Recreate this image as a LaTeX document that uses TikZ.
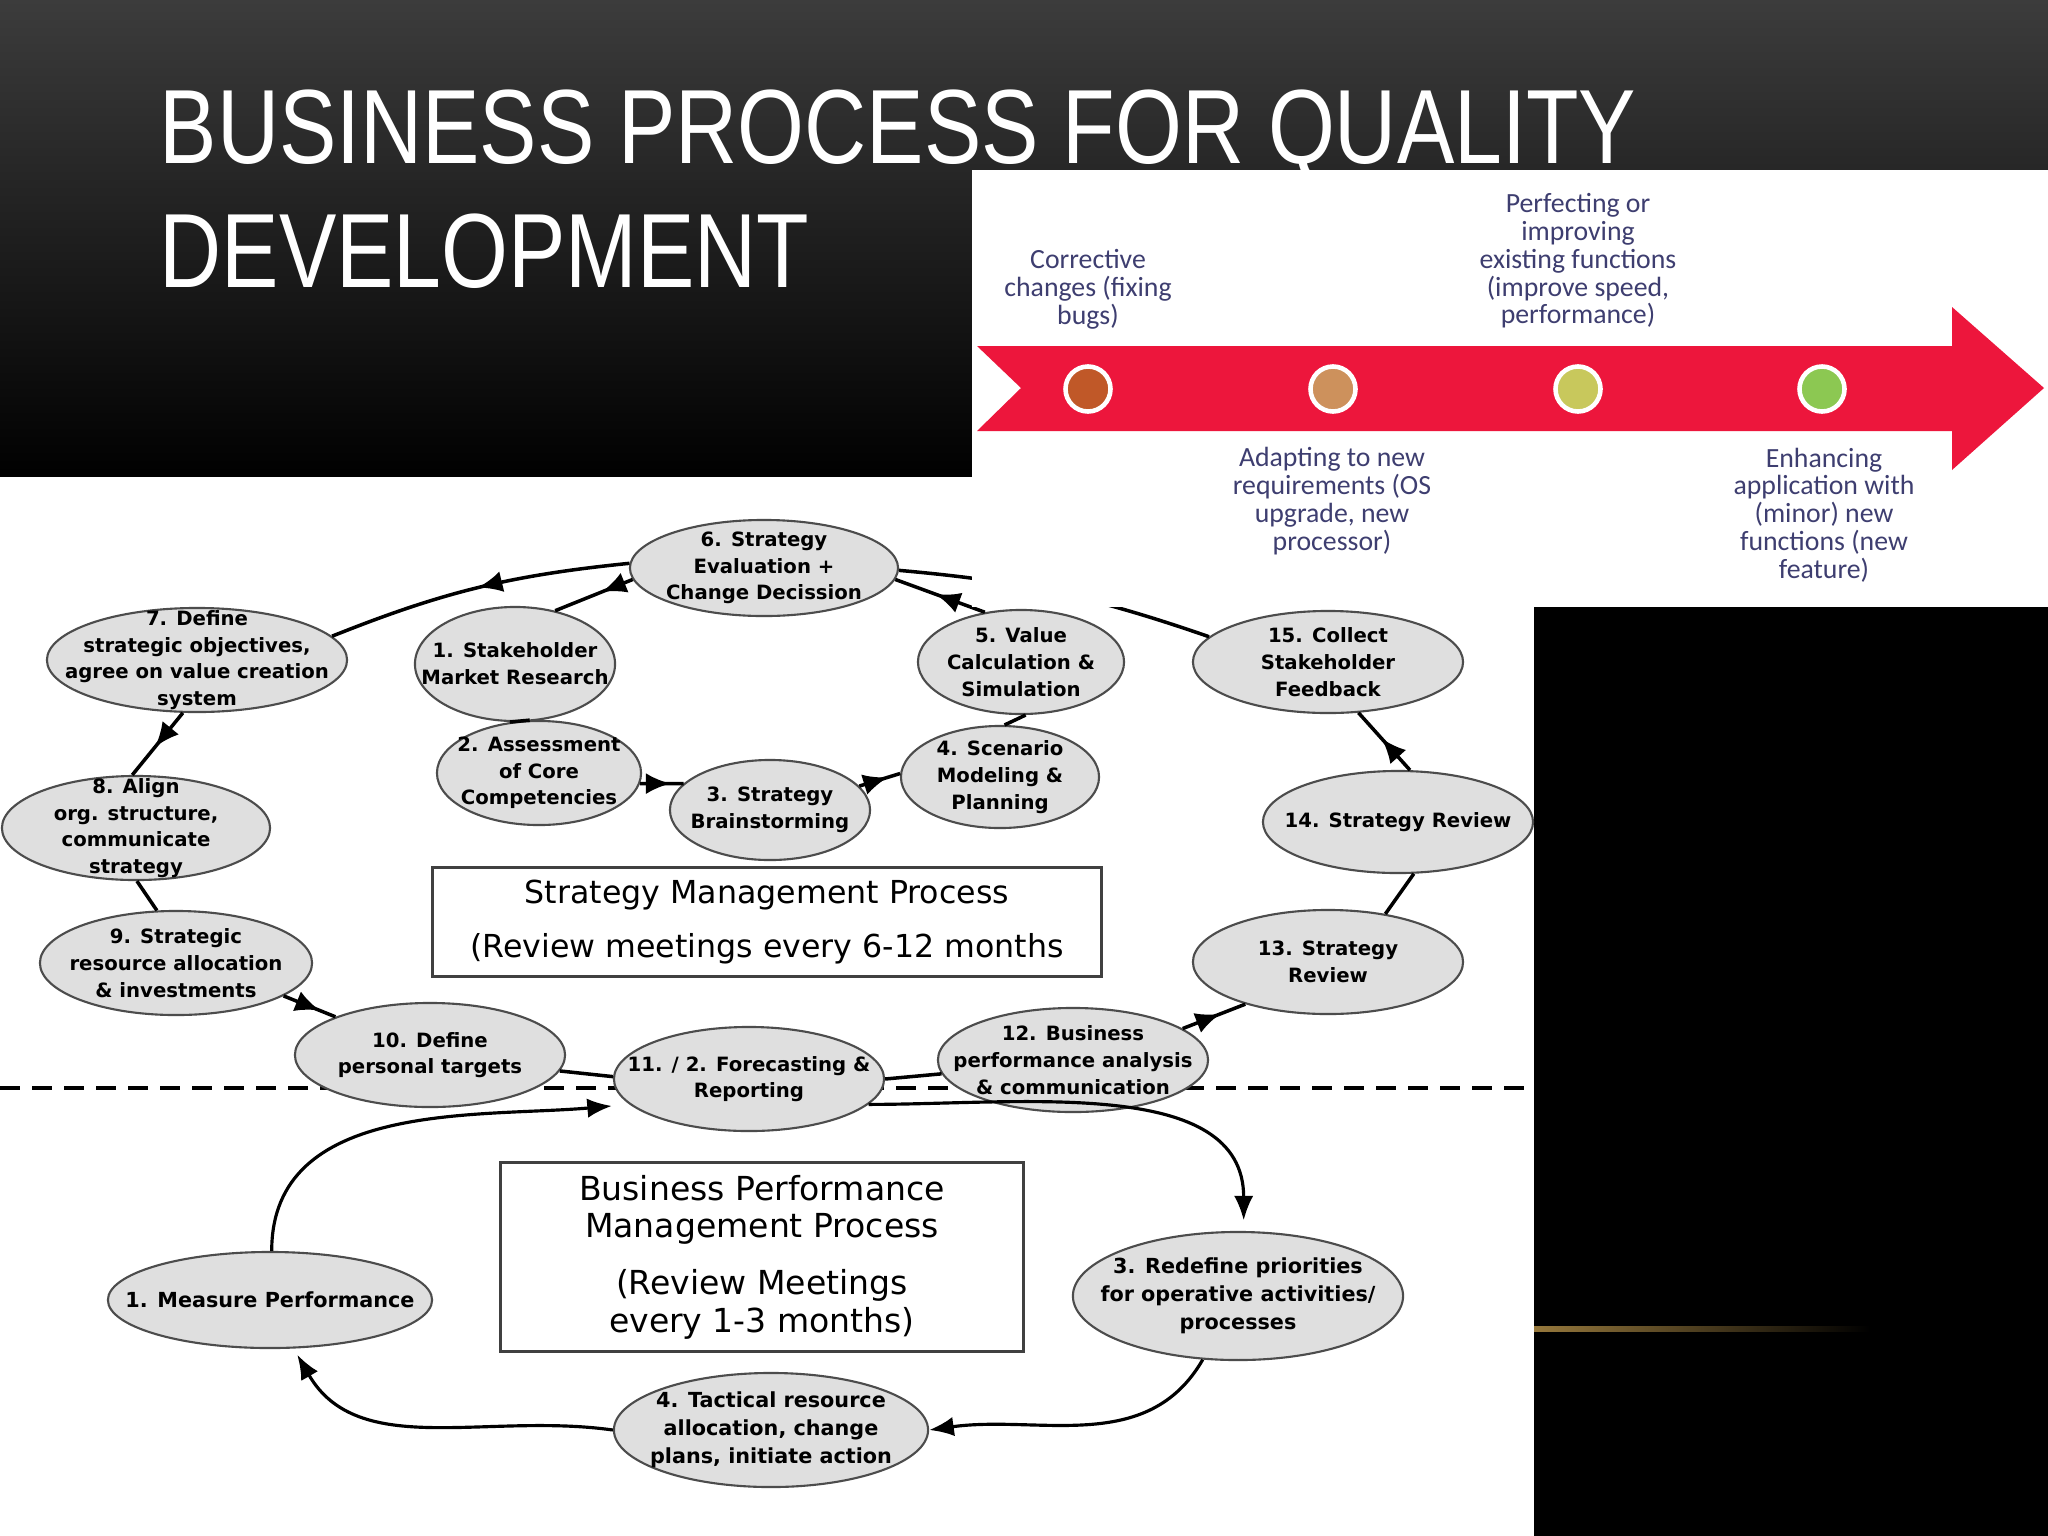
\documentclass[tikz,border=0pt]{standalone}
\usepackage{fontspec}
\setmainfont{DejaVu Sans}
\newfontfamily\titlefont[FakeStretch=0.815]{Liberation Sans}
\newfontfamily\notefont{Carlito}
\usetikzlibrary{shapes.geometric,arrows.meta,decorations.markings}

\definecolor{ribbon}{RGB}{237,22,60}
\definecolor{notecol}{RGB}{62,62,112}
\definecolor{stagefill}{RGB}{223,223,223}
\definecolor{dotA}{RGB}{192,88,40}
\definecolor{dotB}{RGB}{205,145,92}
\definecolor{dotC}{RGB}{200,200,92}
\definecolor{dotD}{RGB}{140,200,82}
\definecolor{topgray}{RGB}{60,60,60}
\definecolor{goldline}{RGB}{150,120,60}

\tikzset{
  stage/.style={ellipse, draw=black!70, line width=0.6pt, fill=stagefill, inner sep=-40pt,
    align=center, font=\bfseries\fontsize{5.6}{7.6}\selectfont},
  bstage/.style={stage, font=\bfseries\fontsize{5.9}{8}\selectfont},
  flow/.style={line width=1pt, postaction={decorate},
    decoration={markings, mark=at position #1 with {\arrow{Latex[length=7pt,width=6pt]}}}},
  flow/.default=0.5,
  link/.style={line width=1pt},
  cycleedge/.style={line width=0.9pt, -{Latex[length=7pt,width=5.5pt]}},
  notetext/.style={text=notecol, align=center, font=\notefont\fontsize{7.9}{7.9}\selectfont},
  dotnode/.style={circle, minimum size=0.45cm, inner sep=0pt, draw=white, line width=1.3pt},
  infobox/.style={draw=black!75, line width=0.8pt, fill=white, align=center, inner sep=0pt},
}

\begin{document}
\begin{tikzpicture}[x=0.01cm, y=-0.01cm]
  \useasboundingbox (0,0) rectangle (2048,1536);
  % slide background
  \shade[top color=topgray, bottom color=black] (0,0) rectangle (2048,480);
  \fill[black] (0,480) rectangle (2048,1536);
  \shade[left color=goldline, right color=black] (1534,1326) rectangle (1870,1331);
  \node[anchor=base west, text=white, inner sep=0pt, font=\titlefont\fontsize{30}{30}\selectfont]
    (title1) at (159,163) {BUSINESS PROCESS FOR QUALITY};
  \node[anchor=base west, text=white, inner sep=0pt, font=\titlefont\fontsize{30}{30}\selectfont]
    (title2) at (159,287) {DEVELOPMENT};

  % process diagram
  \fill[white] (0,477) rectangle (1534,1536);
  \draw[line width=0.9pt, dash pattern=on 5.7pt off 3.4pt] (0,1088) -- (1534,1088);

  \node[stage, minimum width=2.68cm, minimum height=0.96cm] (s6) at (764,568) {6. Strategy\\Evaluation +\\Change Decission};
  \node[stage, minimum width=3.00cm, minimum height=1.04cm] (s7) at (197,660) {7. Define\\strategic objectives,\\agree on value creation\\system};
  \node[stage, minimum width=2.00cm, minimum height=1.14cm] (s1) at (515,664) {1. Stakeholder\\Market Research};
  \node[stage, minimum width=2.04cm, minimum height=1.04cm] (s2) at (539,773) {2. Assessment\\of Core\\Competencies};
  \node[stage, minimum width=2.00cm, minimum height=1.00cm] (s3) at (770,810) {3. Strategy\\Brainstorming};
  \node[stage, minimum width=1.98cm, minimum height=1.02cm] (s4) at (1000,777) {4. Scenario\\Modeling \&\\Planning};
  \node[stage, minimum width=2.06cm, minimum height=1.04cm] (s5) at (1021,662) {5. Value\\Calculation \&\\Simulation};
  \node[stage, minimum width=2.70cm, minimum height=1.02cm] (s15) at (1328,662) {15. Collect\\Stakeholder\\Feedback};
  \node[stage, minimum width=2.70cm, minimum height=1.02cm] (s14) at (1398,822) {14. Strategy Review};
  \node[stage, minimum width=2.70cm, minimum height=1.04cm] (s13) at (1328,962) {13. Strategy\\Review};
  \node[stage, minimum width=2.70cm, minimum height=1.04cm] (s12) at (1073,1060) {12. Business\\performance analysis\\\& communication};
  \node[stage, minimum width=2.70cm, minimum height=1.04cm] (s11) at (749,1079) {11. / 2. Forecasting \&\\Reporting};
  \node[stage, minimum width=2.70cm, minimum height=1.04cm] (s10) at (430,1055) {10. Define\\personal targets};
  \node[stage, minimum width=2.72cm, minimum height=1.04cm] (s9) at (176,963) {9. Strategic\\resource allocation\\\& investments};
  \node[stage, minimum width=2.68cm, minimum height=1.04cm] (s8) at (136,828) {8. Align\\org. structure,\\communicate\\strategy};

  \node[bstage, minimum width=3.24cm, minimum height=0.96cm] (b1) at (270,1300) {1. Measure Performance};
  \node[bstage, minimum width=3.30cm, minimum height=1.28cm] (b3) at (1238,1296) {3. Redefine priorities\\for operative activities/\\processes};
  \node[bstage, minimum width=3.14cm, minimum height=1.14cm] (b4) at (771,1430) {4. Tactical resource\\allocation, change\\plans, initiate action};

  \node[infobox, minimum width=6.68cm, minimum height=1.09cm, font=\fontsize{9}{10.8}\selectfont]
    (smp) at (767,922) {Strategy Management Process\\[4.8pt](Review meetings every 6-12 months};
  \node[infobox, minimum width=5.23cm, minimum height=1.89cm, font=\fontsize{9.4}{10.7}\selectfont]
    (bpm) at (762,1257) {Business Performance\\Management Process\\[5.5pt](Review Meetings\\every 1-3 months)};

  % strategy loop
  \draw[flow] (s6.178) to[bend right=8] (s7.10);
  \draw[flow=0.4] (s6.185) -- (s1.53);
  \draw[link] (s1.265) -- (s2.100);
  \draw[flow=0.7] (s2.354) -- (s3.163);
  \draw[flow=0.7] (s3.15) -- (s4.178);
  \draw[link] (s4.85) -- (s5.275);
  \draw[flow=0.55] (s5.126) -- (s6.355);
  \draw[link] (s15.168) to[bend right=7] (s6.359);
  \draw[flow=0.55] (s14.77) -- (s15.301);
  \draw[link] (s13.40) -- (s14.287);
  \draw[flow=0.6] (s12.16) -- (s13.207);
  \draw[link] (s11.0) -- (s12.186);
  \draw[link] (s10.353) -- (s11.179);
  \draw[flow=0.7] (s9.343) -- (s10.158);
  \draw[link] (s8.271) -- (s9.110);
  \draw[flow=0.55] (s7.255) -- (s8.94);

  % performance loop
  \draw[cycleedge, shorten >=5pt] (b1.88) to[out=90, in=185] (s11.192);
  \draw[cycleedge, shorten >=3pt] (s11.348) to[out=0, in=90] (b3.85);
  \draw[cycleedge] (b3.241) to[out=240, in=8] (b4.0);
  \draw[cycleedge, shorten >=2pt] (b4.180) to[out=172, in=300] (b1.296);

  % maintenance arrow panel
  \fill[white] (972,170) rectangle (2048,607);
  \fill[ribbon] (977,346) -- (1952,346) -- (1952,307) -- (2044,388) -- (1952,470)
    -- (1952,431) -- (977,431) -- (1021,388) -- cycle;
  \node[dotnode, fill=dotA] (d1) at (1088,389) {};
  \node[dotnode, fill=dotB] (d2) at (1333,389) {};
  \node[dotnode, fill=dotC] (d3) at (1578,389) {};
  \node[dotnode, fill=dotD] (d4) at (1822,389) {};
  \node[notetext] (n1) at (1088,289) {Corrective\\changes (fixing\\bugs)};
  \node[notetext] (n2) at (1332,501) {Adapting to new\\requirements (OS\\upgrade, new\\processor)};
  \node[notetext] (n3) at (1578,261) {Perfecting or\\improving\\existing functions\\(improve speed,\\performance)};
  \node[notetext] (n4) at (1824,515) {Enhancing\\application with\\(minor) new\\functions (new\\feature)};
\end{tikzpicture}
\end{document}
